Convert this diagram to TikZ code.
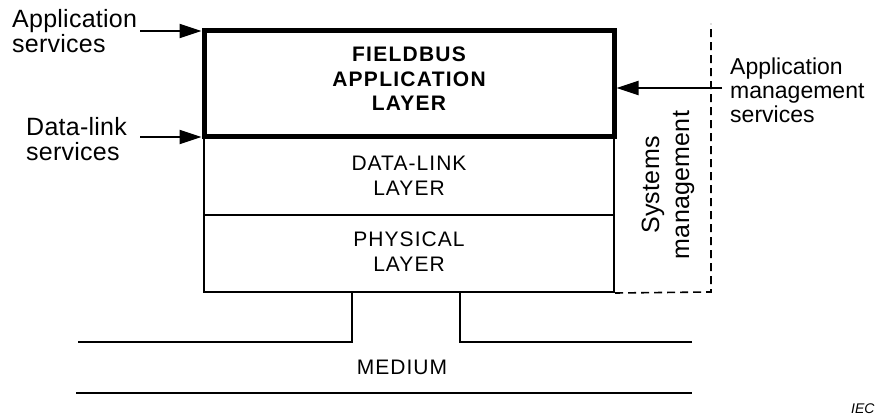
\documentclass[tikz,border=0pt]{standalone}
\usepackage{fontspec}
\setmainfont{Liberation Sans}
\newfontfamily\sidefont[LetterSpace=1]{Liberation Sans}
\newfontfamily\layerfont[LetterSpace=5]{Liberation Sans}
\newfontfamily\falfont[LetterSpace=6]{Liberation Sans}
\usetikzlibrary{arrows.meta,positioning}

\begin{document}
\begin{tikzpicture}[
    x=1pt, y=-1pt,
    layer/.style={rectangle, draw, line width=2pt, minimum width=410pt, inner sep=0pt, align=center, font=\layerfont\fontsize{21}{25}\selectfont},
    toplayer/.style={layer, line width=5pt, font=\falfont\bfseries\fontsize{21}{24.5}\selectfont},
    side/.style={align=left, inner sep=0pt, font=\sidefont\fontsize{25}{25}\selectfont},
    svc/.style={-{Triangle[length=22pt, width=14pt]}, line width=2pt},
    wire/.style={line width=2pt},
    sysmgmt/.style={dashed, dash pattern=on 8pt off 5pt, line width=1.6pt}
]
\useasboundingbox (0,0) rectangle (882,419);

% Layers
\node[layer, minimum height=78pt] (dll) at (409,176) {DATA-LINK\\LAYER};
\node[layer, minimum height=77pt, text depth=4pt] (phl) at (409,253.5) {PHYSICAL\\LAYER};
\node[toplayer, minimum height=106pt, text depth=10pt] (fal) at (409,84) {FIELDBUS\\APPLICATION\\LAYER};

% Systems management
\draw[sysmgmt] (phl.south east) -- (711,292) -- (711,24);
\node[rotate=90, align=center, font=\sidefont\fontsize{25}{30}\selectfont] (sm) at (668,185) {Systems\\management};

% Service labels
\node[side, anchor=north west] (appsvc) at (12,9.5) {Application\\services};
\node[side, anchor=north west] (dlsvc) at (26,117) {Data-link\\services};
\node[side, anchor=north west, font=\fontsize{23}{23.7}\selectfont] (amsvc) at (730,58) {Application\\management\\services};

% Arrows
\coordinate (astail) at (140,31);
\coordinate (dltail) at (140,137);
\coordinate (amtail) at (722,88);
\draw[svc] (astail) -- (astail -| fal.west);
\draw[svc] (dltail) -- (dltail -| fal.west);
\draw[svc] (amtail) -- (amtail -| fal.east);

% Medium
\coordinate (tapL) at (352,292);
\coordinate (tapR) at (460,292);
\draw[wire] (78,342) -| (tapL);
\draw[wire] (692,342) -| (tapR);
\draw[wire] (76,393) -- (692,393);
\node[font=\layerfont\fontsize{21}{25}\selectfont] (med) at (402,367) {MEDIUM};

\node[anchor=base east, font=\itshape\fontsize{14}{14}\selectfont] (iec) at (878,413) {IEC};
\end{tikzpicture}
\end{document}
